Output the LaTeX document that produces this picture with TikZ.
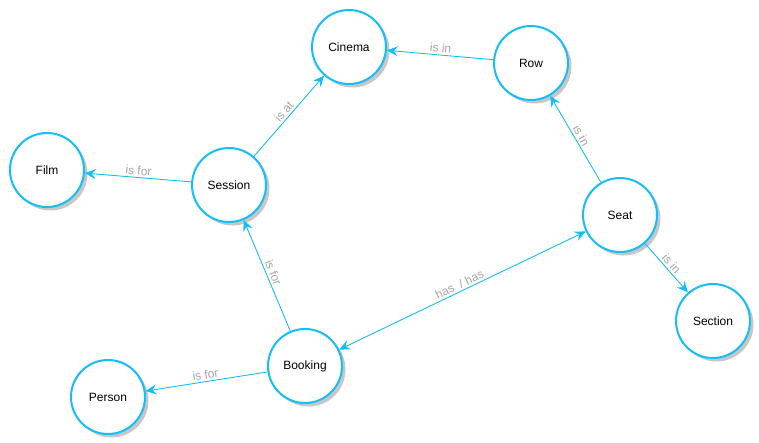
\documentclass[tikz,border=0pt]{standalone}
\usepackage{fontspec}
\setmainfont{Liberation Sans}
\usetikzlibrary{arrows.meta,shadows}
\definecolor{cyanline}{RGB}{20,190,248}
\definecolor{lblgray}{RGB}{165,165,165}
\tikzset{
  entity/.style={circle, draw=cyanline, line width=2pt, fill=white, minimum size=74pt, inner sep=0pt,
    font=\fontsize{12}{14}\selectfont, text=black,
    drop shadow={shadow xshift=3.5pt, shadow yshift=-3.5pt, fill=black!22, opacity=1}},
  rel/.style={draw=cyanline, line width=0.9pt, -{Stealth[length=11pt,width=10pt,inset=4pt]}},
  birel/.style={draw=cyanline, line width=0.9pt, {Stealth[length=11pt,width=10pt,inset=4pt]}-{Stealth[length=11pt,width=10pt,inset=4pt]}},
  lbl/.style={sloped, above, text=lblgray, font=\fontsize{12}{14}\selectfont, inner sep=2pt}
}
\begin{document}
\begin{tikzpicture}[x=1pt,y=-1pt]
\useasboundingbox (0,0) rectangle (759,442);
\node[entity] (cinema) at (349,47) {Cinema};
\node[entity] (row) at (531,63) {Row};
\node[entity] (film) at (47,170) {Film};
\node[entity] (session) at (229,185) {Session};
\node[entity] (seat) at (620,215) {Seat};
\node[entity] (section) at (713,321) {Section};
\node[entity] (booking) at (305,366) {Booking};
\node[entity] (person) at (108,397) {Person};
\draw[rel] (session) -- node[lbl] {is at} (cinema);
\draw[rel] (row) -- node[lbl] {is in} (cinema);
\draw[rel] (session) -- node[lbl] {is for} (film);
\draw[rel] (seat) -- node[lbl] {is in} (row);
\draw[rel] (seat) -- node[lbl] {is in} (section);
\draw[rel] (booking) -- node[lbl] {is for} (session);
\draw[birel] (booking) -- node[lbl] {has~~/ has} (seat);
\draw[rel] (booking) -- node[lbl] {is for} (person);
\end{tikzpicture}
\end{document}
